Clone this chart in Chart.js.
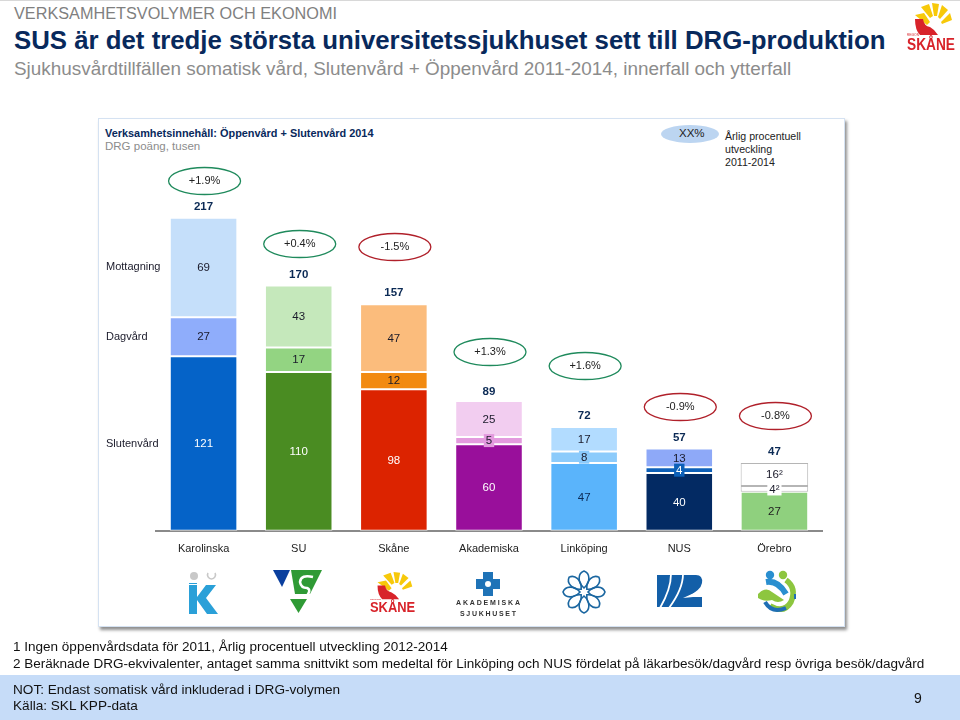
<!DOCTYPE html>
<html>
<head>
<meta charset="utf-8">
<script src="https://cdn.jsdelivr.net/npm/chart.js@4"></script>
<style>
html, body { margin: 0; padding: 0; background: #fff; }
body { width: 960px; height: 720px; position: relative; overflow: hidden; font-family: "Liberation Sans", Arial, sans-serif; }
.t { position: absolute; white-space: nowrap; line-height: 1; }
#topline { position: absolute; left: 0; top: 0; width: 960px; height: 1px; background: #d8d8d8; }
#panel { position: absolute; left: 98px; top: 118px; width: 745px; height: 507px; background: #fff; border: 1px solid #d5e2f2; box-shadow: 2px 3px 3px #8f8f8f; }
#footer { position: absolute; left: 0; top: 675px; width: 960px; height: 45px; background: #c6dcf8; }
#chart-wrap { position: absolute; left: 0; top: 0; width: 960px; height: 720px; }
svg { position: absolute; overflow: visible; }
#legend-oval { position: absolute; left: 661px; top: 125px; width: 58px; height: 18px; border-radius: 50%; background: #bcd5f1; }
</style>
</head>
<body>
<div id="topline"></div>
<div class="t" style="left:14px;top:5px;font-size:16.25px;color:#7f7f7f">VERKSAMHETSVOLYMER OCH EKONOMI</div>
<div class="t" style="left:14px;top:28px;font-size:25.8px;font-weight:bold;color:#08295c">SUS är det tredje största universitetssjukhuset sett till DRG-produktion</div>
<div class="t" style="left:14px;top:60px;font-size:18.9px;color:#8c8c8c">Sjukhusvårdtillfällen somatisk vård, Slutenvård + Öppenvård 2011-2014, innerfall och ytterfall</div>

<div id="panel"></div>
<div class="t" style="left:105px;top:128px;font-size:10.9px;font-weight:bold;color:#08295c">Verksamhetsinnehåll: Öppenvård + Slutenvård 2014</div>
<div class="t" style="left:105px;top:141px;font-size:11.5px;color:#8c8c8c">DRG poäng, tusen</div>
<div id="legend-oval"></div>
<div class="t" style="left:679px;top:128px;font-size:11.5px;color:#222">XX%</div>
<div class="t" style="left:725px;top:131px;font-size:10.6px;color:#222">Årlig procentuell</div>
<div class="t" style="left:725px;top:144px;font-size:10.6px;color:#222">utveckling</div>
<div class="t" style="left:725px;top:157px;font-size:10.6px;color:#222">2011-2014</div>

<div id="chart-wrap"><canvas id="chart" width="960" height="720"></canvas></div>

<svg width="960" height="720" style="left:0;top:0;pointer-events:none">
  <defs>
    <g id="skane-logo" transform="translate(-7,-3)">
      <path d="M15 15 L24 13 L30 22 L27 25 Z" fill="#f7c90a"/>
      <path d="M21 7 L29 4 L33 16 L30 18 Z" fill="#f7c90a"/>
      <path d="M32 3 L39 4 L37 16 L34 16 Z" fill="#f7c90a"/>
      <path d="M42 5 L48 10 L40 19 L38 17 Z" fill="#f7c90a"/>
      <path d="M50 13 L52 20 L42 24 L41 22 Z" fill="#f7c90a"/>
      <path d="M15 19 L23 19 Q24 26 30 27 L34 30 L38 35 L20 35 Q15 30 15 19 Z" fill="#d8232a"/>
      <text x="7" y="36" font-family="Liberation Sans" font-size="3" fill="#d8232a">REGION</text>
      <text x="7" y="50" font-family="Liberation Sans" font-weight="bold" font-size="17" fill="#d8232a" textLength="48" lengthAdjust="spacingAndGlyphs">SKÅNE</text>
    </g>
  </defs>
  <!-- header logo -->
  <use href="#skane-logo" transform="translate(907,3)"/>
  <!-- Karolinska -->
  <g transform="translate(189,570)">
    <circle cx="5" cy="6" r="4" fill="#c8c8c8"/><path d="M19 3 A4 4 0 1 0 26 3" fill="none" stroke="#c8c8c8" stroke-width="1.6"/>
    <path d="M0 13 H8 V14 H0 Z" fill="#2aa0d8"/>
    <path d="M0 15 H8 V27 L17 15 H27 L17 28 L29 44 H18 L8 30 V44 H0 Z" fill="#2aa0d8"/>
  </g>
  <!-- SU -->
  <g transform="translate(273,570)">
    <path d="M0 0 H17 L9 17 Z" fill="#0a3f9e"/>
    <path d="M18 0 H49 L37 24 H22 Z" fill="#2f9a35"/>
    <path d="M40 7 Q28 4 27 12 Q28 18 34 18 Q39 20 33 27" fill="none" stroke="#fff" stroke-width="2.5"/>
    <path d="M17 29 H34 L25.5 43 Z" fill="#2f9a35"/>
  </g>
  <!-- Skåne -->
  <use href="#skane-logo" transform="translate(370,572) scale(0.94,0.85)"/>
  <!-- Akademiska -->
  <g transform="translate(456,572)">
    <path d="M27 0 H37 V7 H44 V17 H37 V24 H27 V17 H20 V7 H27 Z" fill="#1f73b7"/>
    <circle cx="32" cy="12" r="3" fill="#fff"/>
    <text x="0" y="33" font-family="Liberation Sans" font-weight="bold" font-size="7" fill="#333" textLength="64">AKADEMISKA</text>
    <text x="4" y="44" font-family="Liberation Sans" font-weight="bold" font-size="7" fill="#333" textLength="56">SJUKHUSET</text>
  </g>
  <!-- Linköping -->
  <g id="flower" transform="translate(584,592)" fill="none" stroke="#1a66a0" stroke-width="1.6">
    <path d="M0 -4 C-7 -10 -6 -19 0 -21 C6 -19 7 -10 0 -4 Z"/>
    <path d="M0 -4 C-7 -10 -6 -19 0 -21 C6 -19 7 -10 0 -4 Z" transform="rotate(45)"/>
    <path d="M0 -4 C-7 -10 -6 -19 0 -21 C6 -19 7 -10 0 -4 Z" transform="rotate(90)"/>
    <path d="M0 -4 C-7 -10 -6 -19 0 -21 C6 -19 7 -10 0 -4 Z" transform="rotate(135)"/>
    <path d="M0 -4 C-7 -10 -6 -19 0 -21 C6 -19 7 -10 0 -4 Z" transform="rotate(180)"/>
    <path d="M0 -4 C-7 -10 -6 -19 0 -21 C6 -19 7 -10 0 -4 Z" transform="rotate(225)"/>
    <path d="M0 -4 C-7 -10 -6 -19 0 -21 C6 -19 7 -10 0 -4 Z" transform="rotate(270)"/>
    <path d="M0 -4 C-7 -10 -6 -19 0 -21 C6 -19 7 -10 0 -4 Z" transform="rotate(315)"/>
  </g>
  <!-- NUS -->
  <g transform="translate(657,575)">
    <path d="M0 0 H39 Q46 0 45 8 Q44 15 30 22 H45 V32 H0 Z" fill="#135fa8"/>
    <path d="M14 -1 Q14 14 3 33 M26 -1 Q26 14 12 33" fill="none" stroke="#fff" stroke-width="1.8"/>
    <path d="M46 14 L46 21 L26 23 Z" fill="#fff"/>
  </g>
  <!-- Örebro -->
  <g transform="translate(758,570)">
    <circle cx="12" cy="5" r="4.2" fill="#2a8fd0"/><circle cx="25" cy="5" r="4.2" fill="#8dc63f"/>
    <path d="M8 12 Q20 10 28 24" fill="none" stroke="#2a8fd0" stroke-width="6"/>
    <path d="M28 10 Q39 18 33 32 Q26 44 12 36" fill="none" stroke="#8dc63f" stroke-width="5.5"/>
    <path d="M7 32 Q14 44 28 38" fill="none" stroke="#1f6fb5" stroke-width="4"/>
    <path d="M0 24 Q8 16 14 22 L26 30 Q20 34 14 30 Q6 32 0 28 Z" fill="#8dc63f"/>
    <rect x="36" y="24" width="2" height="5" fill="#1f6fb5"/>
  </g>
</svg>

<div class="t" style="left:13px;top:640px;font-size:13.53px;color:#111">1 Ingen öppenvårdsdata för 2011, Årlig procentuell utveckling 2012-2014</div>
<div class="t" style="left:13px;top:657px;font-size:13.53px;color:#111">2 Beräknade DRG-ekvivalenter, antaget samma snittvikt som medeltal för Linköping och NUS fördelat på läkarbesök/dagvård resp övriga besök/dagvård</div>
<div id="footer"></div>
<div class="t" style="left:13px;top:683px;font-size:13.6px;color:#111">NOT: Endast somatisk vård inkluderad i DRG-volymen</div>
<div class="t" style="left:13px;top:699px;font-size:13.6px;color:#111">Källa: SKL KPP-data</div>
<div class="t" style="left:914px;top:691px;font-size:14px;color:#111">9</div>

<script>
const categories = ['Karolinska', 'SU', 'Skåne', 'Akademiska', 'Linköping', 'NUS', 'Örebro'];
const slutenvard = [121, 110, 98, 60, 47, 40, 27];
const dagvard = [27, 17, 12, 5, 8, 4, 4];
const mottagning = [69, 43, 47, 25, 17, 13, 16];
const totals = [217, 170, 157, 89, 72, 57, 47];
const growth = ['+1.9%', '+0.4%', '-1.5%', '+1.3%', '+1.6%', '-0.9%', '-0.8%'];
const dagvardText = ['27', '17', '12', '5', '8', '4', '4²'];
const mottagningText = ['69', '43', '47', '25', '17', '13', '16²'];

const slutenColors = ['#0563c8', '#4a8c22', '#dc2300', '#990f9b', '#5ab4fb', '#032a63', '#8fd07e'];
const dagColors = ['#8fadfb', '#93d482', '#f28a10', '#e39ade', '#8ccbfb', '#0d60b8', '#ffffff'];
const mottagColors = ['#c5dffa', '#c5e8bb', '#fbbc7c', '#f2cdf0', '#b2dcff', '#8ea9f8', '#ffffff'];
const slutenText = ['#ffffff', '#ffffff', '#ffffff', '#ffffff', '#0b2a55', '#ffffff', '#222222'];
const dagText = ['#1a1a2a', '#1a1a2a', '#1a1a2a', '#1a1a2a', '#1a1a2a', '#ffffff', '#1a1a2a'];
const mottagText = ['#1a1a2a', '#1a1a2a', '#1a1a2a', '#1a1a2a', '#1a1a2a', '#1a1a2a', '#1a1a2a'];
const growthUp = '#1f8a5c';
const growthDown = '#b0202a';
// centre height of each oval
const growthY = [181, 244, 247, 352, 366, 407, 416];

function borderFor(colors) {
  return colors.map(c => c === '#ffffff' ? '#b5b5b5' : '#ffffff');
}

const annotate = {
  id: 'annotate',
  afterDatasetsDraw(chart) {
    const { ctx, scales: { x, y } } = chart;
    const rows = [
      { name: 'Slutenvård', base: () => 0, vals: slutenvard, text: slutenvard.map(String), colors: slutenText },
      { name: 'Dagvård', base: i => slutenvard[i], vals: dagvard, text: dagvardText, colors: dagText, fills: dagColors },
      { name: 'Mottagning', base: i => slutenvard[i] + dagvard[i], vals: mottagning, text: mottagningText, colors: mottagText }
    ];
    ctx.save();
    ctx.textBaseline = 'middle';
    ctx.textAlign = 'center';
    rows.forEach(row => {
      row.vals.forEach((v, i) => {
        const cx = x.getPixelForValue(i);
        const cy = y.getPixelForValue(row.base(i) + v / 2);
        ctx.font = '11.5px "Liberation Sans"';
        if (row.fills) {
          // small segments: the number sits on a patch of the segment colour
          const w = ctx.measureText(row.text[i]).width + 4;
          ctx.fillStyle = row.fills[i];
          ctx.fillRect(cx - w / 2, cy - 6.5, w, 13);
        }
        ctx.fillStyle = row.colors[i];
        ctx.fillText(row.text[i], cx, cy + 0.5);
      });
      // row caption left of the first bar
      ctx.save();
      ctx.textAlign = 'left';
      ctx.font = '11px "Liberation Sans"';
      ctx.fillStyle = '#1a1a2a';
      ctx.fillText(row.name, 106, y.getPixelForValue(row.base(0) + row.vals[0] / 2));
      ctx.restore();
    });
    totals.forEach((t, i) => {
      const cx = x.getPixelForValue(i);
      ctx.font = 'bold 11.5px "Liberation Sans"';
      ctx.fillStyle = '#0b2a55';
      ctx.fillText(String(t), cx, y.getPixelForValue(t) - 11);
      // growth oval
      const g = growth[i];
      ctx.beginPath();
      ctx.ellipse(cx + 1, growthY[i], 36, 13.5, 0, 0, Math.PI * 2);
      ctx.lineWidth = 1.3;
      ctx.strokeStyle = g[0] === '+' ? growthUp : growthDown;
      ctx.stroke();
      ctx.font = '11px "Liberation Sans"';
      ctx.fillStyle = '#222222';
      ctx.fillText(g, cx + 1, growthY[i]);
    });
    ctx.restore();
  }
};

new Chart(document.getElementById('chart'), {
  type: 'bar',
  data: {
    labels: categories,
    datasets: [
      { label: 'Slutenvård', data: slutenvard, backgroundColor: slutenColors, borderColor: borderFor(slutenColors), borderWidth: 1, borderSkipped: false },
      { label: 'Dagvård', data: dagvard, backgroundColor: dagColors, borderColor: borderFor(dagColors), borderWidth: 1, borderSkipped: false },
      { label: 'Mottagning', data: mottagning, backgroundColor: mottagColors, borderColor: borderFor(mottagColors), borderWidth: 1, borderSkipped: false }
    ]
  },
  options: {
    responsive: false,
    animation: false,
    layout: { padding: { left: 156, right: 138, top: 170, bottom: 160 } },
    datasets: { bar: { categoryPercentage: 1, barPercentage: 0.71 } },
    scales: {
      x: {
        stacked: true,
        grid: { display: false },
        border: { color: '#8a8a8a', width: 2 },
        ticks: { color: '#222222', font: { family: 'Liberation Sans', size: 11 }, padding: 4, maxRotation: 0 }
      },
      y: { stacked: true, display: false, min: 0, max: 250 }
    },
    plugins: { legend: { display: false }, tooltip: { enabled: false } }
  },
  plugins: [annotate]
});
</script>
</body>
</html>
